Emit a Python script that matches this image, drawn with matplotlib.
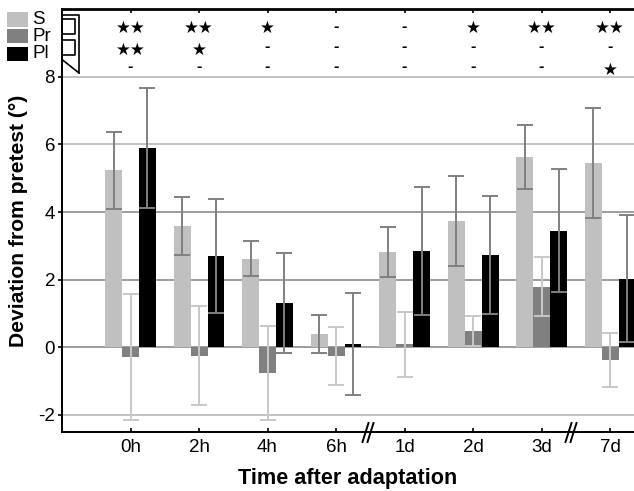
import numpy as np
import matplotlib
matplotlib.use("Agg")
import matplotlib.pyplot as plt
from matplotlib.lines import Line2D
from matplotlib.patches import Rectangle

plt.rcParams['font.family'] = ['Liberation Sans', 'DejaVu Sans']
plt.rcParams['axes.unicode_minus'] = False

W, H = 634, 491

time_labels = ["0h", "2h", "4h", "6h", "1d", "2d", "3d", "7d"]
series_names = ["S", "Pr", "Pl"]

s_mean = [5.23, 3.59, 2.62, 0.39, 2.82, 3.74, 5.64, 5.46]
s_err = [1.15, 0.87, 0.52, 0.56, 0.75, 1.33, 0.95, 1.63]
pr_mean = [-0.28, -0.25, -0.75, -0.25, 0.09, 0.48, 1.79, -0.37]
pr_err = [1.86, 1.47, 1.39, 0.86, 0.96, 0.44, 0.88, 0.80]
pl_mean = [5.90, 2.70, 1.31, 0.09, 2.85, 2.73, 3.45, 2.02]
pl_err = [1.78, 1.70, 1.49, 1.50, 1.89, 1.75, 1.82, 1.88]

# significance rows: S-Pr, Pr-Pl, S-Pl
sig_s_pr = ["**", "**", "*", "-", "-", "*", "**", "**"]
sig_pr_pl = ["**", "*", "-", "-", "-", "-", "-", "-"]
sig_s_pl = ["-", "-", "-", "-", "-", "-", "-", "*"]

bar_colors = ["#c0c0c0", "#808080", "#000000"]
err_colors = ["#808080", "#c8c8c8", "#808080"]

fig = plt.figure(figsize=(W / 100, H / 100), dpi=100)
ax = fig.add_axes([62 / W, 1 - 431.7 / H, 1 - 62 / W, (431.7 - 9.3) / H])

x = np.arange(len(time_labels))
bw = 0.248
means = [s_mean, pr_mean, pl_mean]
errs = [s_err, pr_err, pl_err]

# grid lines
grid_cols = {-2: "#b8b8b8", 0: "#8c8c8c", 2: "#8c8c8c", 4: "#8c8c8c", 6: "#b8b8b8", 8: "#b8b8b8"}
for yv, c in grid_cols.items():
    ax.axhline(yv, color=c, lw=1.2, zorder=0)

for i in range(3):
    pos = x + (i - 1) * bw
    ax.bar(pos, means[i], width=bw, color=bar_colors[i], zorder=2, linewidth=0)
    ax.errorbar(pos, means[i], yerr=errs[i], fmt="none", ecolor=err_colors[i],
                elinewidth=1.4, capsize=6, capthick=1.4, zorder=3)

ax.set_xlim(-1.0, 7.35)
ax.set_ylim(-2.5, 10)
ax.set_yticks([-2, 0, 2, 4, 6, 8])
ax.set_xticks(x)
ax.set_xticklabels(time_labels)
ax.tick_params(axis="y", direction="out", length=3, width=1.2, labelsize=13.5, pad=2)
ax.tick_params(axis="x", direction="in", length=3, width=1.2, labelsize=13.5, top=True, pad=5)
for sp in ["left", "bottom"]:
    ax.spines[sp].set_linewidth(1.4)
ax.spines["top"].set_linewidth(2)
ax.spines["right"].set_visible(False)

ax.set_ylabel("Deviation from pretest (°)", fontsize=15.2, fontweight="bold", labelpad=7)
ax.set_xlabel("Time after adaptation", fontsize=15.6, fontweight="bold", labelpad=9)

# (y for stars, y for dashes) per row
row_y = [(9.45, 9.49), (8.79, 8.9), (8.2, 8.3)]


def sig_text(xp, ys, s):
    if s == "-":
        ax.text(xp, ys[1], "-", ha="center", va="center", fontsize=11.5, fontweight="bold")
    else:
        ax.text(xp, ys[0], "★" * len(s), ha="center", va="center", fontsize=12,
                family="DejaVu Sans")


for row, ys in zip([sig_s_pr, sig_pr_pl, sig_s_pl], row_y):
    for xi, s in zip(x, row):
        sig_text(xi, ys, s)


def fx(px):
    return px / W


def fy(py):
    return 1 - py / H


def fline(xs, ys, lw=1.2):
    fig.add_artist(Line2D([fx(v) for v in xs], [fy(v) for v in ys],
                          transform=fig.transFigure, color="black", lw=lw))


# comparison brackets
fline([62, 79, 79], [14.7, 14.7, 73])
fline([62, 79], [59.5, 73])
fline([62, 75, 75, 62], [19, 19, 34, 34])
fline([62, 75, 75, 62], [40, 40, 55, 55])

# axis breaks
for bx in [368, 571]:
    for dx in [-2.5, 2.5]:
        fline([bx + dx - 3, bx + dx + 3], [442, 423], lw=1.4)

# legend
for i, name in enumerate(series_names):
    top = [12.3, 29.3, 46.7][i]
    bot = [26.7, 43.3, 61.0][i]
    fig.add_artist(Rectangle((fx(7), fy(bot)), fx(28) - fx(7), fy(top) - fy(bot),
                             transform=fig.transFigure, color=bar_colors[i], lw=0))
    fig.text(fx(32), fy((top + bot) / 2), name, fontsize=13.5, va="center", ha="left")

fig.savefig("out.png", dpi=100)
